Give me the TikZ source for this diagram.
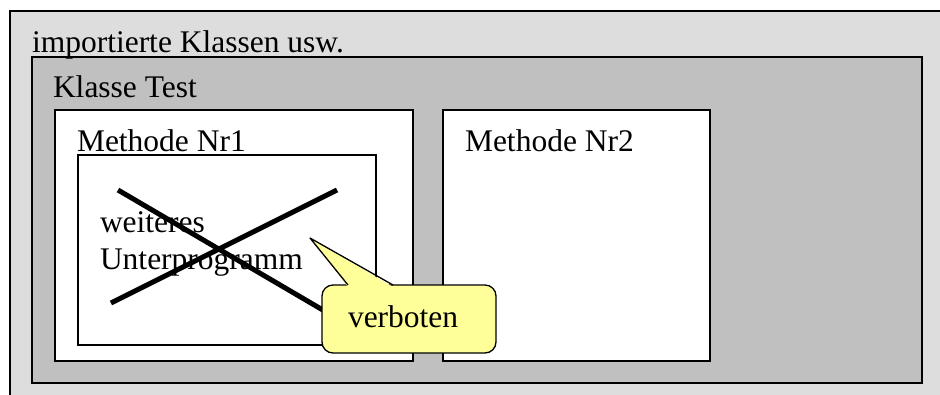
\documentclass[tikz,border=0pt]{standalone}
\usepackage{fontspec}
\setmainfont{Liberation Serif}
\definecolor{outergray}{HTML}{DDDDDD}
\definecolor{classgray}{HTML}{C0C0C0}
\definecolor{noteyellow}{HTML}{FFFF99}
\begin{document}
\begin{tikzpicture}[x=1pt,y=-1pt,
  box/.style={draw=black,line width=1.6pt,anchor=north west,inner sep=0pt,outer sep=0pt},
  lbl/.style={anchor=base west,inner sep=0pt,outer sep=0pt,font=\fontsize{31.5}{37}\selectfont},
  strike/.style={line width=5pt,black}]
\useasboundingbox (0,0) rectangle (940,394);
\clip (0,0) rectangle (940,394);
% nested frames
\node[box,fill=outergray,minimum width=960pt,minimum height=420pt] (outer) at (10,11) {};
\node[box,fill=classgray,minimum width=890pt,minimum height=326pt] (klasse) at (32,57) {};
\node[box,fill=white,minimum width=358pt,minimum height=251pt] (m1) at (55,110) {};
\node[box,fill=white,minimum width=267pt,minimum height=251pt] (m2) at (443,110) {};
\node[box,fill=white,minimum width=298pt,minimum height=190pt,line width=1.3pt] (sub) at (78,155) {};
% titles
\node[lbl] (t0) at (32,52) {importierte Klassen usw.};
\node[lbl] (t1) at (53,97) {Klasse Test};
\node[lbl] (t2) at (77,151) {Methode Nr1};
\node[lbl] (t3) at (465,151) {Methode Nr2};
\node[lbl] (t4) at (100,232) {weiteres};
\node[lbl] (t5) at (100,269) {Unterprogramm};
% crossing out the nested routine
\coordinate (a1) at (118,190);
\coordinate (a2) at (345,323);
\coordinate (b1) at (337,190);
\coordinate (b2) at (111,303);
\draw[strike] (a1) -- (a2);
\draw[strike] (b1) -- (b2);
% speech bubble
\node[box,fill=noteyellow,line width=1.3pt,rounded corners=11pt,minimum width=174pt,minimum height=68pt] (note) at (322,285) {};
\coordinate (tip) at (310,238);
\coordinate (bl) at (348,285);
\coordinate (br) at (393,285);
\fill[noteyellow] ([yshift=-2pt]bl) -- (tip) -- ([yshift=-2pt]br) -- cycle;
\draw[line width=1.3pt,line join=round] (bl) -- (tip) -- (br);
\node[lbl] (t6) at (348,327) {verboten};
\end{tikzpicture}
\end{document}
